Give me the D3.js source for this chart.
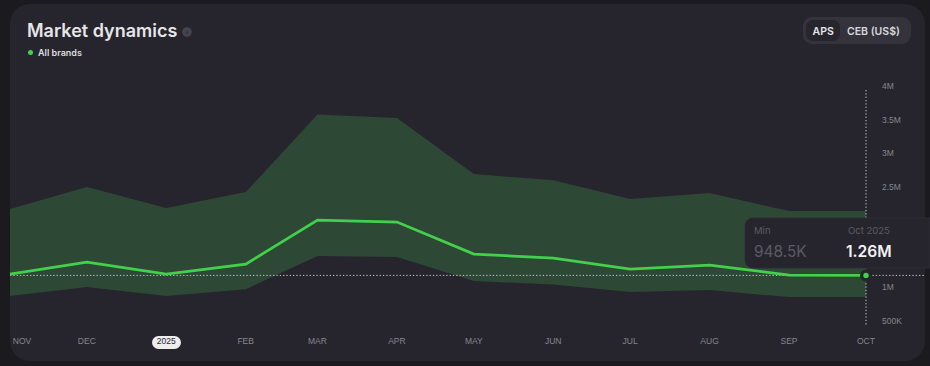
<!DOCTYPE html>
<html><head><meta charset="utf-8">
<script src="https://cdnjs.cloudflare.com/ajax/libs/d3/7.8.5/d3.min.js"></script>
<style>html,body{margin:0;padding:0;background:#1b1a1f;overflow:hidden}svg{display:block;font-family:Inter,sans-serif}</style>
</head><body><svg id="c" width="930" height="366"></svg>
<script>
const months=["2024-11-01","2024-12-01","2025-01-01","2025-02-01","2025-03-01","2025-04-01","2025-05-01","2025-06-01","2025-07-01","2025-08-01","2025-09-01","2025-10-01"];
const monthLabels=["NOV","DEC","2025","FEB","MAR","APR","MAY","JUN","JUL","AUG","SEP","OCT"];
const lineValues=[1.275e6,1.454e6,1.275e6,1.424e6,2.081e6,2.051e6,1.573e6,1.513e6,1.349e6,1.409e6,1.26e6,1.255e6];
const upperValues=[2.245e6,2.573e6,2.26e6,2.499e6,3.655e6,3.603e6,2.767e6,2.675e6,2.394e6,2.484e6,2.215e6,2.215e6];
const lowerValues=[.946e6,1.081e6,.946e6,1.05e6,1.543e6,1.528e6,1.17e6,1.12e6,1.006e6,1.036e6,.931e6,.931e6];
const yTicks=[5e5,1e6,2.5e6,3e6,3.5e6,4e6];
const yLabels=["500K","1M","2.5M","3M","3.5M","4M"];

const dates=months.map(d=>new Date(d+"T00:00:00Z"));
const x=d3.scaleUtc().domain([dates[0],dates[11]]).range([10,866]);
const y=d3.scaleLinear().domain([5e5,4e6]).range([326,91.5]);
const svg=d3.select("#c");
svg.append("rect").attr("x",10).attr("y",4).attr("width",915).attr("height",357).attr("rx",20).attr("fill","#26252d");

svg.append("path").attr("fill","#2e4836")
  .attr("d",d3.area().x((d,i)=>x(dates[i])).y0((d,i)=>y(lowerValues[i])).y1(d=>y(d))(upperValues));

// crosshair
const cy=y(lineValues[11]), cx=x(dates[11]);
svg.append("line").attr("x1",10).attr("x2",924).attr("y1",cy).attr("y2",cy).attr("stroke","#c9c9cc").attr("stroke-width",1).attr("stroke-dasharray","1.3 2.03");
svg.append("line").attr("x1",cx).attr("x2",cx).attr("y1",90).attr("y2",325).attr("stroke","#c9c9cc").attr("stroke-width",1).attr("stroke-dasharray","1.3 2.03");

svg.append("path").attr("fill","none").attr("stroke","#43d14c").attr("stroke-width",2.7)
  .attr("d",d3.line().x((d,i)=>x(dates[i])).y(d=>y(d))(lineValues));
svg.append("circle").attr("cx",cx).attr("cy",cy).attr("r",6).attr("fill","#26252d");
svg.append("circle").attr("cx",cx).attr("cy",cy).attr("r",2.7).attr("fill","#43d14c");

// y axis
const ya=svg.append("g").attr("transform","translate(875,0)")
  .call(d3.axisRight(y).tickValues(yTicks).tickSize(0).tickPadding(7).tickFormat((d,i)=>yLabels[i]));
ya.select(".domain").remove();
ya.selectAll("text").attr("fill","#86858d").attr("font-size",8.5).attr("dy","-0.33em");

// x axis
svg.append("rect").attr("x",152).attr("y",336).attr("width",29).attr("height",13).attr("rx",6.5).attr("fill","#eeeeee");
const xa=svg.append("g").attr("transform","translate(0,338)")
  .call(d3.axisBottom(x).tickValues(dates).tickSize(0).tickPadding(0).tickFormat((d,i)=>monthLabels[i]));
xa.select(".domain").remove();
xa.selectAll("text").attr("fill",(d,i)=>i==2?"#26252d":"#86858d").attr("font-size",8.5)
  .attr("dx",(d,i)=>i==0?11.5:-0.6);

// tooltip
svg.append("path").attr("d","M930,218H753a8,8 0 0 0 -8,8V260a8,8 0 0 0 8,8H930Z").attr("fill","#26252d").attr("stroke","#2d2c34");
const t=(s,px,py,fs,c,w)=>svg.append("text").attr("x",px).attr("y",py).attr("font-size",fs).attr("fill",c).attr("font-weight",w||400).text(s);
t("Min",754,234,9.5,"#5c5b63");
t("948.5K",754,257,15.4,"#5c5b63",400);
t("Oct 2025",848,234,9.5,"#5c5b63");
t("1.26M",846,257,15.6,"#f2f2f2",600);

// header
t("Market dynamics",27,37,18,"#e6e6e8",600);
svg.append("circle").attr("cx",187).attr("cy",32).attr("r",4.8).attr("fill","#45444e");
svg.append("rect").attr("x",186.5).attr("y",31).attr("width",1).attr("height",3).attr("fill","#26252d");
svg.append("circle").attr("cx",30.5).attr("cy",52.5).attr("r",2.5).attr("fill","#43d14c");
t("All brands",38,56,9,"#dededf",600);

// toggle
svg.append("rect").attr("x",803).attr("y",17).attr("width",108).attr("height",27).attr("rx",9).attr("fill","#34333b");
svg.append("rect").attr("x",806).attr("y",20).attr("width",34).attr("height",21).attr("rx",7).attr("fill","#26252d");
t("APS",812.5,35,10.5,"#e6e6e8",600);
t("CEB (US$)",847,35,10.5,"#d8d8da",600);
</script></body></html>
